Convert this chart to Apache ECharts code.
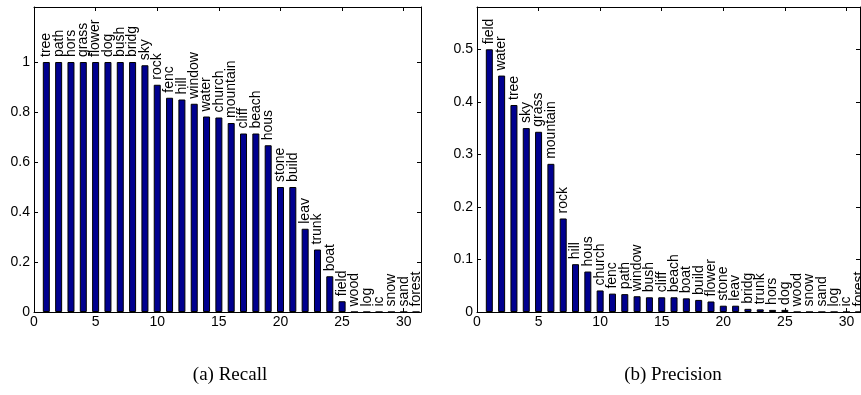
<!DOCTYPE html>
<html>
<head>
<meta charset="utf-8">
<script src="https://cdn.jsdelivr.net/npm/echarts@6/dist/echarts.min.js"></script>
<style>html,body{margin:0;padding:0;background:#fff}#c{width:861px;height:395px}</style>
</head>
<body>
<div id="c"></div>
<script>
const recallCats = ['tree','path','hors','grass','flower','dog','bush','bridg','sky','rock','fenc','hill','window','water','church','mountain','cliff','beach','hous','stone','build','leav','trunk','boat','field','wood','log','ic','snow','sand','forest'];
const recallVals = [1,1,1,1,1,1,1,1,0.987,0.909,0.857,0.85,0.833,0.782,0.778,0.756,0.714,0.714,0.667,0.5,0.5,0.333,0.25,0.143,0.043,0,0,0,0,0,0];
const precCats = ['field','water','tree','sky','grass','mountain','rock','hill','hous','church','fenc','path','window','bush','cliff','beach','boat','build','flower','stone','leav','bridg','trunk','hors','dog','wood','snow','sand','log','ic','forest'];
const precVals = [0.5,0.45,0.394,0.35,0.343,0.282,0.178,0.091,0.077,0.041,0.035,0.034,0.030,0.028,0.028,0.028,0.026,0.023,0.020,0.012,0.012,0.006,0.005,0.004,0.004,0,0,0,0,0,0];
const xTicks = [0,5,10,15,20,25,30];
const recallYTicks = [0,0.2,0.4,0.6,0.8,1];
const precYTicks = [0,0.1,0.2,0.3,0.4,0.5];
const captions = ['(a) Recall','(b) Precision'];

const FONT = 'Liberation Sans';
const chart = echarts.init(document.getElementById('c'), null, {renderer:'canvas'});

function xAx(gi, max, pos) {
  return {
    type:'value', gridIndex:gi, min:0, max:max, position:pos,
    axisLine:{show:true, onZero:false, lineStyle:{color:'#000', width:1}},
    axisTick:{show:true, inside:true, length:4, customValues:xTicks, lineStyle:{color:'#000'}},
    axisLabel:{show:pos==='bottom', customValues:xTicks, color:'#000', fontFamily:FONT, fontSize:14, margin:3},
    splitLine:{show:false}
  };
}
function yAx(gi, max, ticks, pos) {
  return {
    type:'value', gridIndex:gi, min:0, max:max, position:pos,
    axisLine:{show:true, onZero:false, lineStyle:{color:'#000', width:1}},
    axisTick:{show:true, inside:true, length:4, customValues:ticks, lineStyle:{color:'#000'}},
    axisLabel:{show:pos==='left', customValues:ticks, color:'#000', fontFamily:FONT, fontSize:14, margin:4,
      formatter: v => String(+v.toFixed(2))},
    splitLine:{show:false}
  };
}
function barSeries(cats, vals, xi, yi) {
  return {
    type:'bar', xAxisIndex:xi, yAxisIndex:yi, barWidth:7,
    data: vals.map((v,i)=>({value:[i+1, v], name:cats[i]})),
    itemStyle:{color:'#00008f', borderColor:'#000', borderWidth:1},
    label:{show:true, position:'top', rotate:90, align:'left', verticalAlign:'middle', distance:5,
      formatter: p => p.name, color:'#000', fontFamily:FONT, fontSize:14},
    animation:false
  };
}

chart.setOption({
  animation:false,
  title:[
    {text:captions[0], left:225, top:361, textAlign:'center', textStyle:{fontFamily:'Liberation Serif', fontWeight:'normal', fontSize:19, color:'#000'}},
    {text:captions[1], left:668, top:361, textAlign:'center', textStyle:{fontFamily:'Liberation Serif', fontWeight:'normal', fontSize:19, color:'#000'}}
  ],
  grid:[
    {left:34, top:7, width:387, height:305},
    {left:477, top:7, width:383, height:305}
  ],
  xAxis:[xAx(0,31.4,'bottom'), xAx(0,31.4,'top'), xAx(1,31.1,'bottom'), xAx(1,31.1,'top')],
  yAxis:[yAx(0,1.22,recallYTicks,'left'), yAx(0,1.22,recallYTicks,'right'), yAx(1,0.5805,precYTicks,'left'), yAx(1,0.5805,precYTicks,'right')],
  series:[barSeries(recallCats, recallVals, 0, 0), barSeries(precCats, precVals, 2, 2)]
});
</script>
</body>
</html>
